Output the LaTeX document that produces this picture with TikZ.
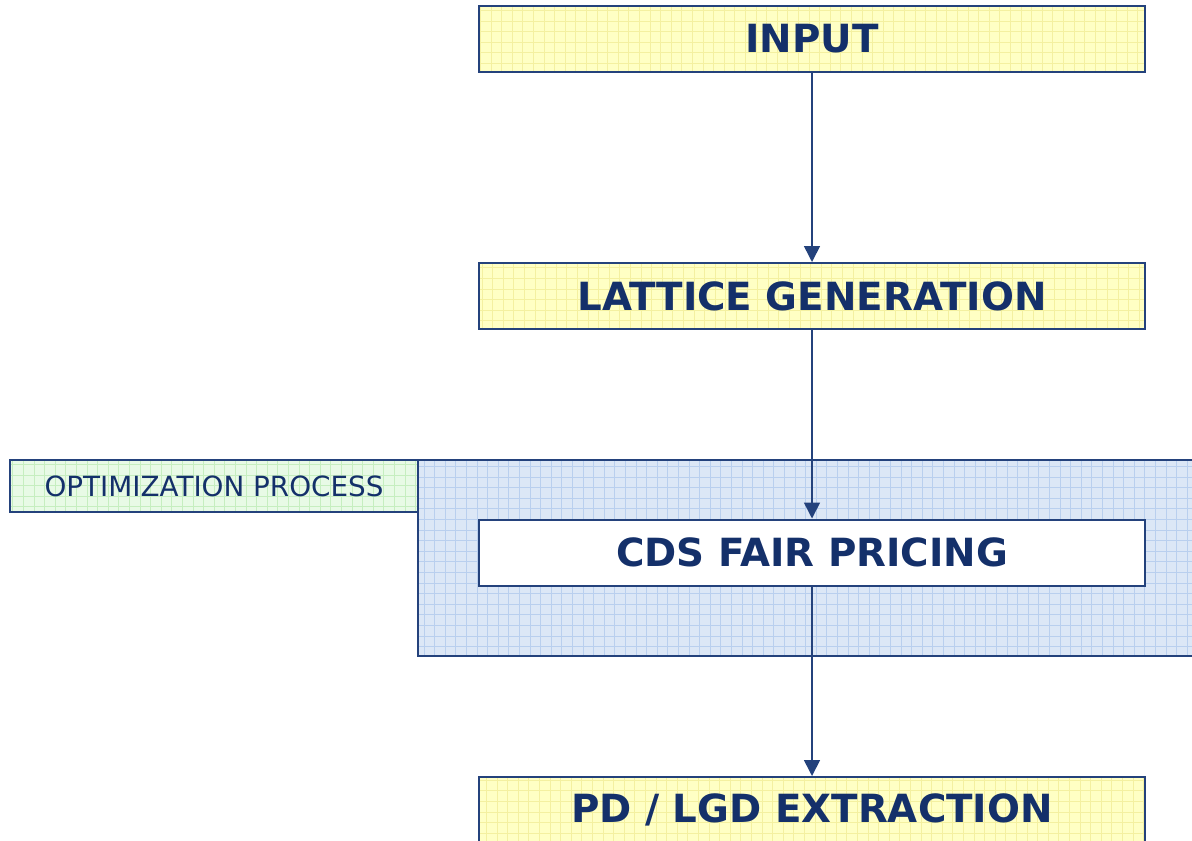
\documentclass[tikz,border=0pt]{standalone}
\usepackage{fontspec}
\setmainfont{DejaVu Sans}
\usetikzlibrary{arrows.meta}

\definecolor{navyline}{HTML}{24427C}
\definecolor{navytext}{HTML}{14306A}
\definecolor{yellowfill}{HTML}{FFFFC4}
\definecolor{yellowgrid}{HTML}{F4F0A0}
\definecolor{bluefill}{HTML}{DCE7F6}
\definecolor{bluegrid}{HTML}{B9CFEE}
\definecolor{greenfill}{HTML}{E8FAE6}
\definecolor{greengrid}{HTML}{C6EEC0}

\begin{document}
\begin{tikzpicture}[x=0.5pt,y=-0.5pt]
		\tikzstyle{stage}=[draw=navyline, line width=1pt, inner sep=0pt,
			minimum width=333pt, minimum height=33pt, text=navytext,
			font=\fontsize{19.4}{22}\selectfont\bfseries]
		\tikzstyle{gridded}=[path picture={\draw[#1, step=5.3pt, line width=0.4pt]
			(path picture bounding box.south west) grid (path picture bounding box.north east);}]
		\tikzstyle{flow}=[draw=navyline, line width=0.8pt, -{Triangle[width=8pt,length=8pt]}]
		\useasboundingbox (0,0) rectangle (1192,840);
		\clip (0,0) rectangle (1192,840);
		% optimization area
		\fill[bluefill] (418,460) rectangle (1210,656);
		\draw[bluegrid, step=5.3pt, line width=0.45pt] (418,460) grid (1210,656);
		\draw[navyline, line width=1pt] (1210,460) -- (418,460) -- (418,656) -- (1210,656);
		\node[draw=navyline, line width=1pt, fill=greenfill, gridded=greengrid, inner sep=0pt,
			minimum width=204pt, minimum height=26pt, text=navytext,
			font=\fontsize{13.9}{16}\selectfont] (optim) at (214,486) {OPTIMIZATION PROCESS};
		% stages
		\node[stage, fill=yellowfill, gridded=yellowgrid] (input) at (812,39) {INPUT};
		\node[stage, fill=yellowfill, gridded=yellowgrid] (lattice) at (812,296) {LATTICE GENERATION};
		\node[stage, fill=white] (pricing) at (812,552.5) {CDS FAIR PRICING};
		\node[stage, fill=yellowfill, gridded=yellowgrid] (extract) at (812,810) {PD / LGD EXTRACTION};
		\draw[flow] (input) -- (lattice);
		\draw[flow] (lattice) -- (pricing);
		\draw[flow] (pricing) -- (extract);
	\end{tikzpicture}
\end{document}
